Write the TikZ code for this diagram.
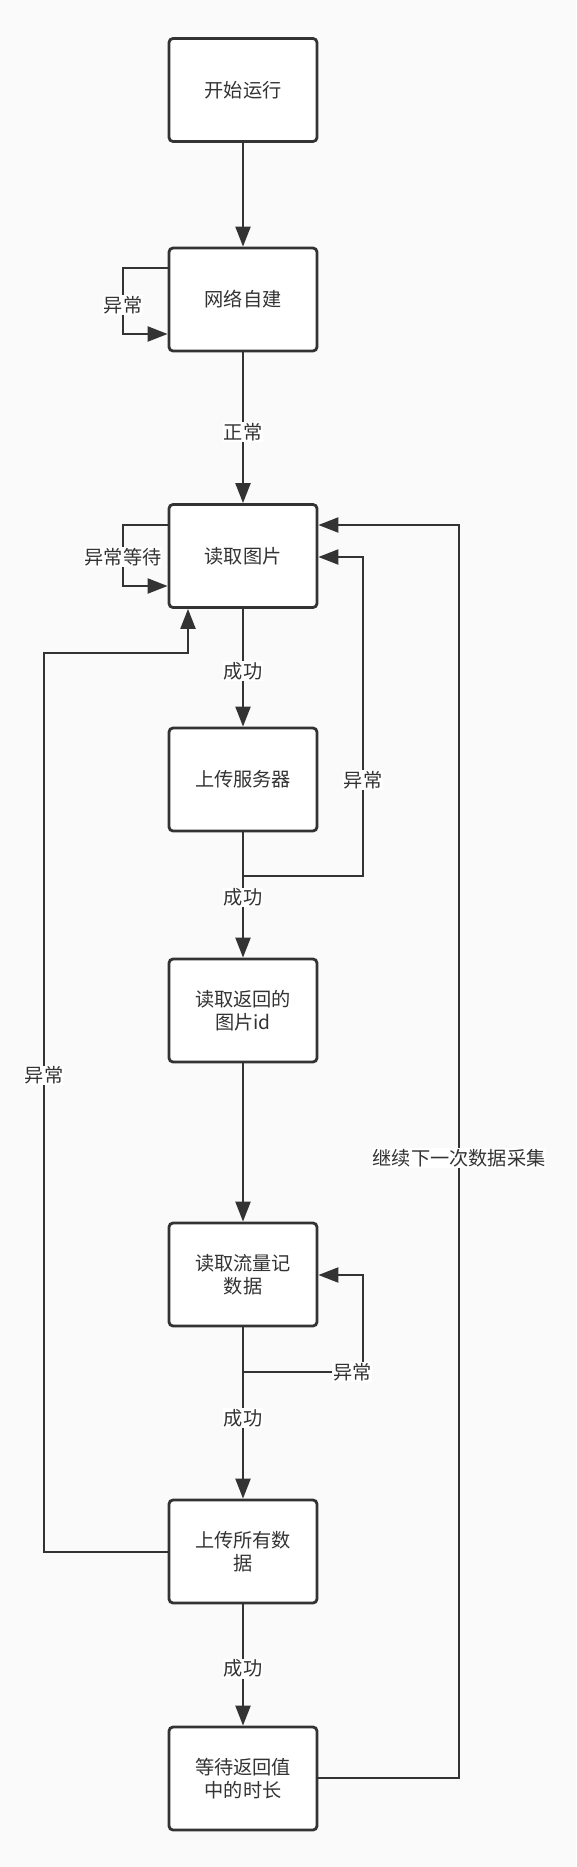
\documentclass[tikz,border=0pt]{standalone}
\usepackage{fontspec}
\setmainfont{Noto Sans CJK SC}
\usetikzlibrary{arrows.meta}
\definecolor{ln}{HTML}{333333}
\definecolor{bg}{HTML}{FAFAFA}
\begin{document}
\begin{tikzpicture}[x=1pt,y=-1pt,
  box/.style={draw=ln, line width=2.8pt, fill=white, rounded corners=4pt, minimum width=148pt, minimum height=103pt, align=center, font=\fontsize{19.2}{23}\selectfont, text=ln, inner sep=0pt},
  conn/.style={draw=ln, line width=2.2pt, -{Triangle[length=20pt,width=15pt]}},
  plain/.style={draw=ln, line width=2.2pt},
  lbl/.style={fill=white, text=ln, font=\fontsize{19.2}{23}\selectfont, inner xsep=1pt, inner ysep=1pt}]
\fill[bg] (0,0) rectangle (576,1867);
\useasboundingbox (0,0) rectangle (576,1867);

\node[box] (b1) at (243,90) {开始运行};
\node[box] (b2) at (243,299.5) {网络自建};
\node[box] (b3) at (243,556) {读取图片};
\node[box] (b4) at (243,779.5) {上传服务器};
\node[box] (b5) at (243,1010.5) {读取返回的\\图片id};
\node[box] (b6) at (243,1274.5) {读取流量记\\数据};
\node[box] (b7) at (243,1551.5) {上传所有数\\据};
\node[box] (b8) at (243,1778.5) {等待返回值\\中的时长};

% main flow
\draw[conn] (b1) -- (b2);
\draw[conn] (b2) -- node[lbl, pos=0.53] {正常} (b3);
\draw[conn] (b3) -- node[lbl, pos=0.53] {成功} (b4);
\draw[conn] (b4) -- node[lbl, pos=0.52] {成功} (b5);
\draw[conn] (b5) -- (b6);
\draw[conn] (b6) -- node[lbl, pos=0.53] {成功} (b7);
\draw[conn] (b7) -- node[lbl, pos=0.53] {成功} (b8);

% self loop on b2
\coordinate (p2a) at (123,268);
\coordinate (p2b) at (123,334);
\draw[conn] (b2.west |- p2a) -- (p2a) -- node[lbl, pos=0.56] {异常} (p2b) -- (b2.west |- p2b);

% self loop on b3
\coordinate (p3a) at (123,525);
\coordinate (p3b) at (123,586);
\draw[conn] (b3.west |- p3a) -- (p3a) -- node[lbl, pos=0.53] {异常等待} (p3b) -- (b3.west |- p3b);

% b4 error back to b3
\coordinate (p4a) at (243,876);
\coordinate (p4b) at (363,876);
\coordinate (p4c) at (363,557);
\draw[conn] (b4.south) -- (p4a) -- (p4b) -- node[lbl, pos=0.3] {异常} (p4c) -- (b3.east |- p4c);

% b6 self loop
\coordinate (p6a) at (243,1372);
\coordinate (p6b) at (363,1372);
\coordinate (p6c) at (363,1275);
\draw[conn] (b6.south) -- (p6a) -- node[lbl, pos=0.91] {异常} (p6b) -- (p6c) -- (b6.east |- p6c);

% b7 error back to b3
\coordinate (p7a) at (44,1552);
\coordinate (p7b) at (44,653);
\coordinate (p7c) at (188,653);
\draw[conn] (b7.west |- p7a) -- (p7a) -- node[lbl, pos=0.53] {异常} (p7b) -- (p7c) -- (b3.south -| p7c);

% b8 continue to b3
\coordinate (p8a) at (459,1778);
\coordinate (p8b) at (459,525);
\draw[conn] (b8.east |- p8a) -- (p8a) -- node[lbl, pos=0.495] {继续下一次数据采集} (p8b) -- (b3.east |- p8b);
\end{tikzpicture}
\end{document}
